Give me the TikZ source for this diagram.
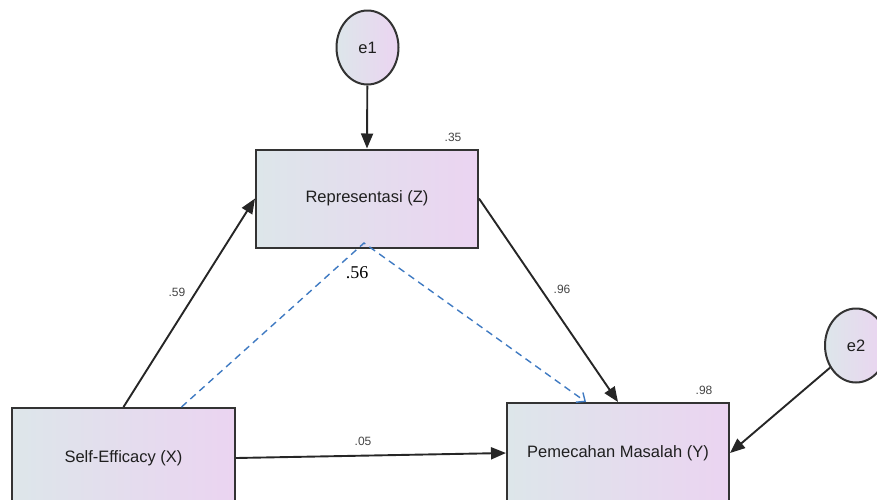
\documentclass[tikz,border=0pt]{standalone}
\usepackage{fontspec}
\setmainfont{Liberation Sans}
\newfontfamily\serifnum{Liberation Serif}
\usetikzlibrary{arrows.meta,calc,shapes.geometric}
\definecolor{leftc}{HTML}{DDE6EA}
\definecolor{rightc}{HTML}{EBD4F1}
\definecolor{edge}{HTML}{333333}
\definecolor{dashblue}{HTML}{3F7AC2}
\definecolor{lblgray}{HTML}{444444}
\tikzset{
  obsbox/.style={draw=edge, line width=2pt, left color=leftc, right color=rightc,
    minimum width=222pt, minimum height=98pt, inner sep=0pt,
    font=\fontsize{16.5}{19}\selectfont, text=black!88},
  errnode/.style={draw=edge, line width=2pt, ellipse, left color=leftc, right color=rightc,
    minimum width=62pt, minimum height=74pt, inner sep=0pt,
    font=\fontsize{16.5}{19}\selectfont, text=black!88},
  path/.style={draw=black!85, line width=1.9pt, -{Triangle[length=15pt,width=12pt]}},
  coef/.style={font=\fontsize{12}{14}\selectfont, text=lblgray, inner sep=0pt},
  indirect/.style={draw=dashblue, line width=1.4pt, dash pattern=on 7pt off 5pt, -{Straight Barb[length=7pt,width=12pt]}}
}
\begin{document}
\begin{tikzpicture}[x=1pt,y=-1pt]
\useasboundingbox (0,0) rectangle (877,499);
\clip (0,0) rectangle (877,499);
\node[obsbox] (Z) at (367,198.5) {Representasi (Z)};
\node[obsbox, minimum height=100pt, minimum width=223pt] (X) at (123.5,458) {Self-Efficacy (X)};
\node[obsbox, minimum height=100pt] (Y) at (618,453) {Pemecahan Masalah (Y)};
\node[errnode] (e1) at (367.5,47.5) {e1};
\node[errnode] (e2) at (856,345.5) {e2};
\draw[path] (e1) -- (Z.north);
\draw[path] (X.north) -- (Z.west);
\draw[path] (Z.east) -- (Y.north);
\draw[path] (X.east) -- (Y.west);
\draw[path] (e2) -- (Y.east);
\coordinate (peak) at (364,243);
\draw[indirect] ([xshift=58pt]X.north) -- (peak) -- ([xshift=-32pt]Y.north);
\node[coef] (c35) at (453,137) {.35};
\node[coef] (c59) at (177,292) {.59};
\node[coef] (c96) at (562,289) {.96};
\node[coef] (c05) at (363,441) {.05};
\node[coef] (c98) at (704,390) {.98};
\node[inner sep=0pt, font=\serifnum\fontsize{18}{20}\selectfont] (c56) at (357,273) {.56};
\end{tikzpicture}
\end{document}
